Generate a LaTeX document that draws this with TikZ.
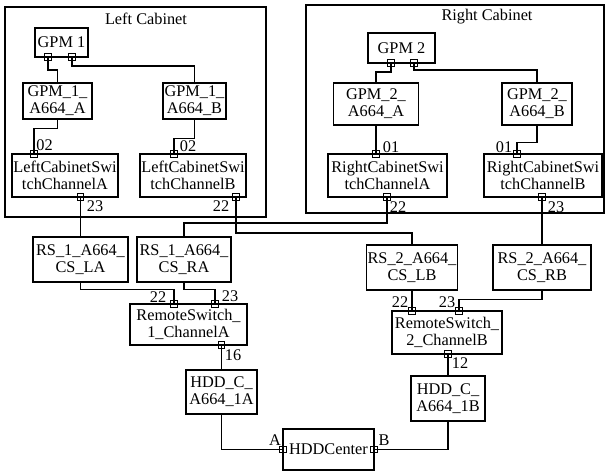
\documentclass[tikz,border=0pt]{standalone}
\usepackage{fontspec}
\setmainfont{Liberation Serif}
\begin{document}
\begin{tikzpicture}[x=1pt,y=-1pt,
  box/.style={draw, line width=1.2pt, align=center, inner sep=0pt, font=\fontsize{16.3}{17}\selectfont},
  cab/.style={draw, line width=1.2pt, inner sep=0pt},
  port/.style={draw, rectangle, minimum size=6.5pt, inner sep=0pt, line width=1pt},
  wire/.style={line width=1.2pt},
  lbl/.style={inner sep=0pt, font=\fontsize{16.3}{17}\selectfont},
  ttl/.style={inner sep=0pt, font=\fontsize{16.3}{17}\selectfont}]
\useasboundingbox (0,0) rectangle (605,475);
% cabinets
\node[cab, minimum width=261pt, minimum height=210pt] (lcab) at (135.5,112) {};
\node[cab, minimum width=298pt, minimum height=208pt] (rcab) at (455,109) {};
\node[ttl] (lcabt) at (146,19) {Left Cabinet};
\node[ttl] (rcabt) at (487,17) {Right Cabinet};
% boxes
\node[box, minimum width=53pt, minimum height=29pt] (gpm1) at (61.5,42.5) {GPM 1};
\node[box, minimum width=69pt, minimum height=36pt] (g1a) at (57.5,101) {GPM\_1\_\\A664\_A};
\node[box, minimum width=63pt, minimum height=36pt] (g1b) at (194.5,101) {GPM\_1\_\\A664\_B};
\node[box, minimum width=106pt, minimum height=43pt] (lsa) at (65,175.5) {LeftCabinetSwi\\tchChannelA};
\node[box, minimum width=106pt, minimum height=43pt] (lsb) at (193,175.5) {LeftCabinetSwi\\tchChannelB};
\node[box, minimum width=67pt, minimum height=30pt] (gpm2) at (401.5,48) {GPM 2};
\node[box, minimum width=85pt, minimum height=42pt] (g2a) at (376,104) {GPM\_2\_\\A664\_A};
\node[box, minimum width=70pt, minimum height=42pt] (g2b) at (537,104) {GPM\_2\_\\A664\_B};
\node[box, minimum width=119pt, minimum height=43pt] (rsa) at (387.5,175.5) {RightCabinetSwi\\tchChannelA};
\node[box, minimum width=118pt, minimum height=43pt] (rsb) at (543,175.5) {RightCabinetSwi\\tchChannelB};
\node[box, minimum width=95pt, minimum height=45pt] (rs1la) at (80.5,259.5) {RS\_1\_A664\_\\CS\_LA};
\node[box, minimum width=94pt, minimum height=45pt] (rs1ra) at (184,259.5) {RS\_1\_A664\_\\CS\_RA};
\node[box, minimum width=117pt, minimum height=41pt] (rsw1) at (188.5,324.5) {RemoteSwitch\_\\1\_ChannelA};
\node[box, minimum width=91pt, minimum height=45pt] (rs2lb) at (412,267.5) {RS\_2\_A664\_\\CS\_LB};
\node[box, minimum width=98pt, minimum height=45pt] (rs2rb) at (542,267.5) {RS\_2\_A664\_\\CS\_RB};
\node[box, minimum width=110pt, minimum height=43pt] (rsw2) at (447,332.5) {RemoteSwitch\_\\2\_ChannelB};
\node[box, minimum width=71pt, minimum height=44pt] (hdd1a) at (221.5,392) {HDD\_C\_\\A664\_1A};
\node[box, minimum width=74pt, minimum height=45pt] (hdd1b) at (448,398.5) {HDD\_C\_\\A664\_1B};
\node[box, minimum width=91pt, minimum height=41pt] (hddc) at (328.5,449.5) {HDDCenter};
% ports
\node[port] (gpm1p1) at (48,57) {};
\node[port] (gpm1p2) at (72,57) {};
\node[port] (lsap) at (34,154) {};
\node[port] (lsbp) at (174,154) {};
\node[port] (lsaq) at (80.5,197) {};
\node[port] (lsbq) at (236,197) {};
\node[port] (gpm2p1) at (391,63) {};
\node[port] (gpm2p2) at (414,63) {};
\node[port] (rsap) at (376,154) {};
\node[port] (rsbp) at (517,154) {};
\node[port] (rsaq) at (387,197) {};
\node[port] (rsbq) at (542,197) {};
\node[port] (rsw1p1) at (174,304) {};
\node[port] (rsw1p2) at (215,304) {};
\node[port] (rsw1q) at (221.5,345) {};
\node[port] (rsw2p1) at (412,311) {};
\node[port] (rsw2p2) at (459,311) {};
\node[port] (rsw2q) at (448,354) {};
\node[port] (hddca) at (283,449.5) {};
\node[port] (hddcb) at (374,449.5) {};
% connectors
\draw[wire] (gpm1p1.center) -- ++(0,13) -| (g1a.north);
\draw[wire] (gpm1p2.center) -- ++(0,9) -| (g1b.north);
\draw[wire] (g1a.south) -- ++(0,9) -| (lsap.center);
\draw[wire] (g1b.south) -- ++(0,19) -| (lsbp.center);
\draw[wire] (gpm2p1.center) -- ++(0,9) -| (g2a.north);
\draw[wire] (gpm2p2.center) -- ++(0,7) -| (g2b.north);
\draw[wire] (g2a.south) -- (rsap.center);
\draw[wire] (g2b.south) -- ++(0,17) -| (rsbp.center);
\draw[wire] (lsaq.center) -- (rs1la.north);
\draw[wire] (lsbq.center) -- ++(0,36) -| (rs2lb.north);
\draw[wire] (rsaq.center) -- ++(0,26) -| (rs1ra.north);
\draw[wire] (rsbq.center) -- (rs2rb.north);
\draw[wire] (rs1la.south) -- ++(0,7) -| (rsw1p1.center);
\draw[wire] (rs1ra.south) -- ++(0,7) -| (rsw1p2.center);
\draw[wire] (rs2lb.south) -- (rsw2p1.center);
\draw[wire] (rs2rb.south) -- ++(0,9) -| (rsw2p2.center);
\draw[wire] (rsw1q.center) -- (hdd1a.north);
\draw[wire] (hdd1a.south) |- (hddca.center);
\draw[wire] (rsw2q.center) -- (hdd1b.north);
\draw[wire] (hdd1b.south) |- (hddcb.center);
% port labels
\node[lbl] (l1) at (44.5,145) {02};
\node[lbl] (l2) at (188,146) {02};
\node[lbl] (l3) at (95,206) {23};
\node[lbl] (l4) at (221,206) {22};
\node[lbl] (l5) at (391,147) {01};
\node[lbl] (l6) at (504,147) {01};
\node[lbl] (l7) at (398,207) {22};
\node[lbl] (l8) at (556,207) {23};
\node[lbl] (l9) at (158,297) {22};
\node[lbl] (l10) at (230,296) {23};
\node[lbl] (l11) at (400,302) {22};
\node[lbl] (l12) at (447,302) {23};
\node[lbl] (l13) at (233,355) {16};
\node[lbl] (l14) at (460,363) {12};
\node[lbl] (l15) at (275,440) {A};
\node[lbl] (l16) at (384,440) {B};
\end{tikzpicture}
\end{document}
